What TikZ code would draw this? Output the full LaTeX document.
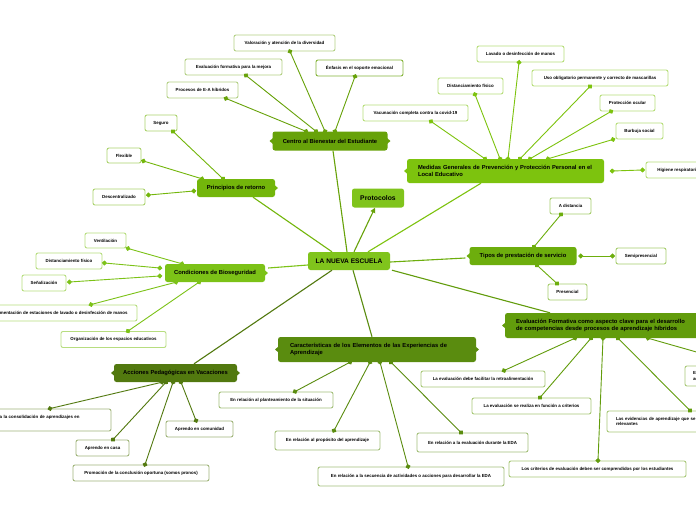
\documentclass[tikz,border=0pt]{standalone}
\usepackage{fontspec}
\setmainfont{Liberation Sans}
\usetikzlibrary{arrows.meta,calc}
\definecolor{cBright}{HTML}{80C41C}
\definecolor{cMed}{HTML}{7DC30E}
\definecolor{cCond}{HTML}{7CC217}
\definecolor{cPrinc}{HTML}{73B60B}
\definecolor{cTipos}{HTML}{6DAE0D}
\definecolor{cCentro}{HTML}{67A209}
\definecolor{cEval}{HTML}{629C0C}
\definecolor{cCar}{HTML}{5A8C0F}
\definecolor{cAcc}{HTML}{52790F}
\newcommand\leaffont{\fontsize{4.4}{5.3}\selectfont\bfseries}
\newcommand\branchfont{\fontsize{5.8}{6.8}\selectfont\bfseries}
\newcommand\tabR[2]{\fill[#1] ($(#2.east)+(-0.5,-2.8)$) -- ++(3.3,2.8) -- ++(-3.3,2.8) -- cycle;}
\newcommand\tabL[2]{\fill[#1] ($(#2.west)+(0.5,-2.8)$) -- ++(-3.3,2.8) -- ++(3.3,2.8) -- cycle;}
\tikzset{
  leaf/.style={draw, rounded corners=2pt, fill=white, line width=0.9pt, font=\leaffont, inner sep=0pt, minimum height=16pt, align=center},
  branch/.style={rounded corners=2.5pt, inner sep=0pt, minimum height=19pt, font=\branchfont, align=center, text=black},
  conn/.style={line width=0.9pt, {Circle[length=4.8pt]}-{Circle[length=4.8pt]}, shorten <=-2.4pt, shorten >=-2.4pt},
  mainconn/.style={line width=1.1pt}
}
\begin{document}
\begin{tikzpicture}[x=1pt,y=-1pt]
\useasboundingbox (0,0) rectangle (696,520);
\fill[white] (0,0) rectangle (696,520);
\clip (0,0) rectangle (696,520);

% ---------- branch nodes ----------
\node[branch, fill=cBright, minimum width=82pt, minimum height=18pt, font=\fontsize{6.6}{7.5}\selectfont\bfseries] (central) at (349,261) {LA NUEVA ESCUELA};
\node[branch, fill=cBright, minimum width=52pt, font=\fontsize{6.8}{7.5}\selectfont\bfseries] (proto) at (378,198) {Protocolos};
\node[branch, fill=cCentro, minimum width=115pt] (centro) at (330,141) {Centro al Bienestar del Estudiante};
\node[branch, fill=cPrinc, minimum width=78pt, minimum height=18pt] (princ) at (236,188) {Principios de retorno};
\node[branch, fill=cCond, minimum width=100pt, minimum height=18pt] (cond) at (215,273) {Condiciones de Bioseguridad};
\node[branch, fill=cTipos, minimum width=107pt, minimum height=18pt] (tipos) at (523,256) {Tipos de prestación de servicio};
\node[branch, fill=cMed, minimum width=197pt, minimum height=24pt, text width=175pt, inner xsep=11pt, align=left] (medidas) at (505.5,171) {Medidas Generales de Prevención y Protección Personal en el\\Local Educativo};
\node[branch, fill=cEval, minimum width=205pt, minimum height=25pt, text width=183pt, inner xsep=11pt, align=left] (eval) at (607.5,325.5) {Evaluación Formativa como aspecto clave para el desarrollo\\de competencias desde procesos de aprendizaje híbridos};
\node[branch, fill=cCar, minimum width=198pt, minimum height=25pt, text width=174pt, inner xsep=12pt, align=left] (caract) at (377,349.5) {Características de los Elementos de las Experiencias de\\Aprendizaje};
\node[branch, fill=cAcc, minimum width=123pt, minimum height=18pt] (acc) at (175.5,373) {Acciones Pedagógicas en Vacaciones};

\tabL{cCentro}{centro} \tabR{cCentro}{centro}
\tabR{cPrinc}{princ}
\tabR{cCond}{cond}
\tabL{cTipos}{tipos}
\tabL{cMed}{medidas}
\tabL{cEval}{eval}
\tabL{cCar}{caract} \tabR{cCar}{caract}
\tabL{cAcc}{acc} \tabR{cAcc}{acc}

% ---------- leaves: Centro ----------
\node[leaf, draw=cCentro!50!white, minimum width=101pt] (val) at (284.5,43) {Valoración y atención de la diversidad};
\node[leaf, draw=cCentro!50!white, minimum width=97pt] (evalf) at (233.5,67) {Evaluación formativa para la mejora};
\node[leaf, draw=cCentro!80!white, minimum width=87pt] (enfasis) at (359.5,68) {Énfasis en el soporte emocional};
\node[leaf, draw=cCentro!50!white, minimum width=71pt] (procesos) at (202.5,90) {Procesos de E-A híbridos};
% Principios
\node[leaf, draw=cPrinc!60!white, minimum width=32pt] (seguro) at (161,123) {Seguro};
\node[leaf, draw=cPrinc!60!white, minimum width=34pt, minimum height=15pt] (flexible) at (124,155.5) {Flexible};
\node[leaf, draw=cPrinc!60!white, minimum width=52pt] (descent) at (119,197) {Descentralizado};
% Condiciones
\node[leaf, draw=cCond!55!white, minimum width=41pt, minimum height=15pt] (vent) at (105.5,240.5) {Ventilación};
\node[leaf, draw=cCond!55!white, minimum width=66pt] (dist1) at (69,261) {Distanciamiento físico};
\node[leaf, draw=cCond!55!white, minimum width=44pt] (senal) at (44,283) {Señalización};
\node[leaf, draw=cCond!55!white, minimum width=158pt] (estac) at (58,313) {Implementación de estaciones de lavado o desinfección de manos};
\node[leaf, draw=cCond!55!white, minimum width=105pt] (organ) at (113.5,339.5) {Organización de los espacios educativos};
% Tipos
\node[leaf, draw=cTipos!60!white, minimum width=41pt] (adist) at (570.5,206) {A distancia};
\node[leaf, draw=cTipos!60!white, minimum width=50pt] (semi) at (641,256) {Semipresencial};
\node[leaf, draw=cTipos!60!white, minimum width=39pt] (pres) at (567.5,292) {Presencial};
% Medidas
\node[leaf, draw=cMed!55!white, minimum width=87pt] (lavado) at (520.5,54) {Lavado o desinfección de manos};
\node[leaf, draw=cMed!55!white, minimum width=65pt] (dist2) at (470.5,86) {Distanciamiento físico};
\node[leaf, draw=cMed!55!white, minimum width=136pt] (uso) at (600,78) {Uso obligatorio permanente y correcto de mascarillas};
\node[leaf, draw=cMed!55!white, minimum width=105pt] (vacuna) at (415.5,113) {Vacunación completa contra la covid-19};
\node[leaf, draw=cMed!55!white, minimum width=55pt] (ocular) at (627.5,103) {Protección ocular};
\node[leaf, draw=cMed!55!white, minimum width=47pt] (burbuja) at (639.5,131) {Burbuja social};
\node[leaf, draw=cMed!55!white, minimum width=64pt] (higiene) at (678,170) {Higiene respiratoria};
% Evaluacion
\node[leaf, draw=cEval!55!white, minimum width=124pt] (retro) at (483,379) {La evaluación debe facilitar la retroalimentación};
\node[leaf, draw=cEval!55!white, minimum width=119pt] (crit) at (531.5,406) {La evaluación se realiza en función a criterios};
\node[leaf, draw=cEval!55!white, minimum width=177pt] (comp) at (597.5,469) {Los criterios de evaluación deben ser comprendidos por los estudiantes};
\node[leaf, draw=cEval!55!white, minimum width=146pt, minimum height=21pt, text width=128pt, inner xsep=9pt, align=left] (evid) at (680,421.5) {Las evidencias de aprendizaje que se recogen deben ser\\relevantes};
\node[leaf, draw=cEval!55!white, minimum width=130pt, minimum height=20pt, text width=114pt, inner xsep=8pt, align=left] (ebox) at (750,376) {Estrategias y herramientas de evaluación\\adecuadas};
% Caracteristicas
\node[leaf, draw=cCar!55!white, minimum width=114pt] (plant) at (276,400) {En relación al planteamiento de la situación};
\node[leaf, draw=cCar!55!white, minimum width=105pt, minimum height=19pt] (prop) at (327.5,440.5) {En relación al propósito del aprendizaje};
\node[leaf, draw=cCar!55!white, minimum width=186pt, minimum height=19pt] (sec) at (411,476.5) {En relación a la secuencia de actividades o acciones para desarrollar la EDA};
\node[leaf, draw=cCar!55!white, minimum width=111pt, minimum height=19pt] (evaleda) at (472.5,442.5) {En relación a la evaluación durante la EDA};
% Acciones
\node[leaf, draw=cAcc!55!white, minimum width=154pt, minimum height=22pt, text width=144pt, inner xsep=5pt, align=left] (consol) at (34,420) {Orientaciones para la consolidación de aprendizajes en\\vacaciones};
\node[leaf, draw=cAcc!55!white, minimum width=53pt] (casa) at (102.5,448) {Aprendo en casa};
\node[leaf, draw=cAcc!55!white, minimum width=67pt] (comun) at (199.5,429) {Aprendo en comunidad};
\node[leaf, draw=cAcc!55!white, minimum width=136pt] (promo) at (141,473) {Promoción de la conclusión oportuna (somos pronos)};

% ---------- main connectors ----------
\draw[mainconn, cCentro] (347,0 |- central.north) -- (333,0 |- centro.south);
\draw[mainconn, cCentro, -{Triangle[length=5pt,width=5pt]}] (354,0 |- central.north) -- (375,0 |- proto.south);
\draw[mainconn, cPrinc] (332,0 |- central.north) -- (253,0 |- princ.south);
\draw[mainconn, cMed] (368,0 |- central.north) -- (481,0 |- medidas.south);
\draw[mainconn, cCond] (central.west |- 0,265) -- ([xshift=3pt]cond.east |- 0,268);
\draw[mainconn, cTipos] (central.east |- 0,262) -- ([xshift=-4pt]tipos.west |- 0,258);
\draw[mainconn, cEval] (392,0 |- central.south) -- (550,0 |- eval.north);
\draw[mainconn, cCar] (353,0 |- central.south) -- (372,0 |- caract.north);
\draw[mainconn, cAcc] (332,0 |- central.south) -- (194,0 |- acc.north);

% ---------- leaf connectors ----------
\draw[conn, cCentro] (325,0 |- centro.north) -- (290,0 |- val.south);
\draw[conn, cCentro] (316,0 |- centro.north) -- (246,0 |- evalf.south);
\draw[conn, cCentro] (335,0 |- centro.north) -- (355,0 |- enfasis.south);
\draw[conn, cCentro] (306,0 |- centro.north) -- (226,0 |- procesos.south);

\draw[conn, cPrinc] (223,0 |- princ.north) -- (173,0 |- seguro.south);
\draw[conn, cPrinc] (202,0 |- princ.north) -- ([xshift=2pt]flexible.east |- 0,161);
\draw[conn, cPrinc] ([xshift=-3pt]princ.west |- 0,191) -- ([xshift=3pt]descent.east |- 0,195);

\draw[conn, cCond] (182,0 |- cond.north) -- (128,0 |- vent.south);
\draw[conn, cCond] ([xshift=-5pt]cond.west |- 0,268) -- ([xshift=2pt]dist1.east |- 0,263);
\draw[conn, cCond] ([xshift=-5pt]cond.west |- 0,276) -- ([xshift=3pt]senal.east |- 0,282);
\draw[conn, cCond] (176,0 |- cond.south) -- (91,0 |- estac.north);
\draw[conn, cCond] (199,0 |- cond.south) -- (128,0 |- organ.north);

\draw[conn, cTipos] (534,0 |- tipos.north) -- (561,0 |- adist.south);
\draw[conn, cTipos] ([xshift=4pt]tipos.east) -- ([xshift=-3pt]semi.west);
\draw[conn, cTipos] (537,0 |- tipos.south) -- (557,0 |- pres.north);

\draw[conn, cMed] (485,0 |- medidas.north) -- (431,0 |- vacuna.south);
\draw[conn, cMed] (500,0 |- medidas.north) -- (475,0 |- dist2.south);
\draw[conn, cMed] (508,0 |- medidas.north) -- (519,0 |- lavado.south);
\draw[conn, cMed] (520,0 |- medidas.north) -- (590,0 |- uso.south);
\draw[conn, cMed] (530,0 |- medidas.north) -- (611,0 |- ocular.south);
\draw[conn, cMed] (548,0 |- medidas.north) -- (613,0 |- burbuja.south);
\draw[conn, cMed] ([xshift=8pt]medidas.east) -- ([xshift=-3pt]higiene.west);

\draw[conn, cEval] (575,0 |- eval.south) -- (504,0 |- retro.north);
\draw[conn, cEval] (591,0 |- eval.south) -- (540,0 |- crit.north);
\draw[conn, cEval] (603,0 |- eval.south) -- (598,0 |- comp.north);
\draw[conn, cEval] (618,0 |- eval.south) -- (690,0 |- evid.north);
\draw[conn, cEval] (648,0 |- eval.south) -- (744,0 |- ebox.north);

\draw[conn, cCar] (350,0 |- caract.south) -- (295,0 |- plant.north);
\draw[conn, cCar] (370,0 |- caract.south) -- (334,0 |- prop.north);
\draw[conn, cCar] (380,0 |- caract.south) -- (408,0 |- sec.north);
\draw[conn, cCar] (391,0 |- caract.south) -- (461,0 |- evaleda.north);

\draw[conn, cAcc] (162,0 |- acc.south) -- (50,0 |- consol.north);
\draw[conn, cAcc] (166,0 |- acc.south) -- (113,0 |- casa.north);
\draw[conn, cAcc] (173,0 |- acc.south) -- (145,0 |- promo.north);
\draw[conn, cAcc] (181,0 |- acc.south) -- (196,0 |- comun.north);
\end{tikzpicture}
\end{document}
